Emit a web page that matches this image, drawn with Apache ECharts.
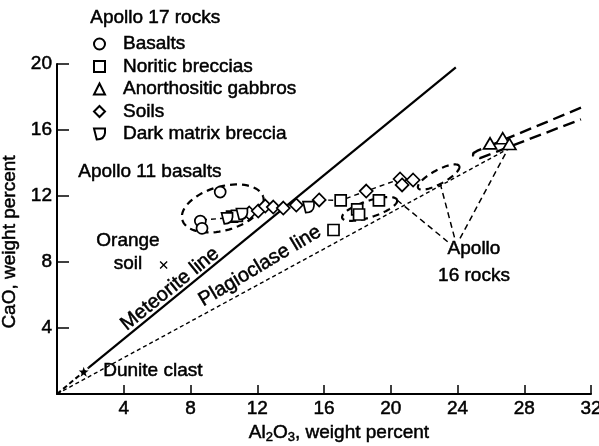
<!DOCTYPE html>
<html>
<head>
<meta charset="utf-8">
<script src="https://cdn.jsdelivr.net/npm/echarts@6/dist/echarts.min.js"></script>
<style>
  html, body { margin: 0; padding: 0; background: #fff; }
  #chart { width: 599px; height: 446px; }
</style>
</head>
<body>
<div id="chart"></div>
<script>
// CaO vs Al2O3 (weight percent) for Apollo 17 rocks and soils
const xTicks = [0, 4, 8, 12, 16, 20, 24, 28, 32];
const yTicks = [0, 4, 8, 12, 16, 20];

const basalts = [[9.78, 12.24], [8.59, 10.48], [8.69, 10.04]];
const noriticBreccias = [
  [10.49, 10.75], [10.78, 10.79], [17.0, 11.73], [17.99, 11.19],
  [18.1, 10.88], [19.29, 11.73], [16.57, 9.94]
];
const anorthositicGabbros = [[25.95, 15.19], [26.71, 15.5], [27.11, 15.15]];
const soils = [
  [11.52, 10.97], [12.06, 11.09], [12.48, 11.39], [12.96, 11.33],
  [13.56, 11.27], [14.34, 11.45], [15.71, 11.76], [18.53, 12.30],
  [20.56, 13.03], [20.68, 12.67], [21.34, 12.97]
];
const darkMatrixBreccia = [[10.19, 10.65], [11.08, 10.91], [15.07, 11.33]];
const orangeSoil = [[6.39, 7.82]];
const duniteClast = [[1.6, 1.35]];

// reference lines
const meteoriteLine = [[1.9, 1.6], [23.9, 19.8]];
const meteoriteLineBase = [[0, 0], [1.9, 1.6]];
const plagioclaseLine = [[0, 0], [27.2, 14.95]];

// Apollo 11 and Apollo 16 fields: [x1, y1, x2, y2, half-width in CaO units]
const closedFields = [
  [7.51, 10.55, 12.36, 11.94, 1.33],
  [17.09, 10.67, 20.38, 11.76, 0.5],
  [21.64, 12.48, 24.1, 13.82, 0.42]
];
const openField = [[31.4, 17.35], [25.17, 14.73], [24.95, 14.6], [24.93, 14.45], [25.35, 14.3], [31.4, 16.65]];
const leaderLines = [
  [[20.37, 11.76], [23.41, 9.23]],
  [[22.96, 12.77], [23.86, 9.33]],
  [[27.15, 15.09], [24.1, 9.33]]
];
const tieLines = [
  [[8.69, 10.55], [10.0, 10.65]],
  [[15.71, 11.76], [17.0, 11.73], [18.53, 12.30], [20.56, 13.03]]
];

const FONT = '"Liberation Sans", Arial, sans-serif';
const darkMatrixPath = 'path://M0,0 L10,0 L10,4 Q9.5,10 2.5,10 L0,0 Z';
const starPath = 'path://M5,0 L6.2,3.6 L10,3.6 L6.9,5.9 L8.1,9.5 L5,7.3 L1.9,9.5 L3.1,5.9 L0,3.6 L3.8,3.6 Z';
const crossPath = 'path://M0,1.2 L1.2,0 L5,3.8 L8.8,0 L10,1.2 L6.2,5 L10,8.8 L8.8,10 L5,6.2 L1.2,10 L0,8.8 L3.8,5 Z';

const hollow = { color: '#fff', borderColor: '#000', borderWidth: 1.7, opacity: 1 };
// slightly heavier strokes on the text
const ink = { textBorderColor: '#000', textBorderWidth: 0.5 };
const label = (text, size, extra) => Object.assign({
  text: text, fill: '#000', font: size + 'px ' + FONT, stroke: '#000', lineWidth: 0.5
}, extra || {});

function renderField(params, api) {
  const a = api.coord([api.value(0), api.value(1)]);
  const b = api.coord([api.value(2), api.value(3)]);
  const hw = api.size([0, api.value(4)])[1];
  const cx = (a[0] + b[0]) / 2, cy = (a[1] + b[1]) / 2;
  const rx = Math.hypot(b[0] - a[0], b[1] - a[1]) / 2;
  const ang = Math.atan2(b[1] - a[1], b[0] - a[0]);
  const pts = [];
  for (let i = 0; i <= 80; i++) {
    const t = (i / 80) * Math.PI * 2;
    const ex = rx * Math.cos(t), ey = hw * Math.sin(t);
    pts.push([cx + ex * Math.cos(ang) - ey * Math.sin(ang), cy + ex * Math.sin(ang) + ey * Math.cos(ang)]);
  }
  return { type: 'polyline', shape: { points: pts }, style: { stroke: '#000', lineWidth: 2.2, lineDash: [7, 5], fill: null } };
}

function lineSeries(data, width, dash) {
  return {
    type: 'line', data: data, symbol: 'none', silent: true, z: 2,
    lineStyle: { color: '#000', width: width, type: dash || 'solid', opacity: 1 }
  };
}

const chart = echarts.init(document.getElementById('chart'));
const option = {
  animation: false,
  backgroundColor: '#fff',
  grid: { left: 57, right: 8, top: 64, bottom: 52, outerBoundsMode: 'none' },
  xAxis: {
    type: 'value', min: xTicks[0], max: xTicks[xTicks.length - 1], interval: 4,
    axisLine: { lineStyle: { color: '#000', width: 2 } },
    axisTick: { inside: true, length: 9, lineStyle: { color: '#000', width: 1.5 } },
    axisLabel: Object.assign({ color: '#000', fontFamily: FONT, fontSize: 19, margin: 5,
      formatter: v => (v === 0 ? '' : String(v)) }, ink),
    splitLine: { show: false },
    name: 'Al{s|2}O{s|3}, weight percent', nameLocation: 'middle', nameGap: 27,
    nameTextStyle: Object.assign({ color: '#000', fontFamily: FONT, fontSize: 19, padding: [0, 0, 0, 30],
      rich: { s: Object.assign({ fontFamily: FONT, fontSize: 13, padding: [10, 0, 0, 0] }, ink) } }, ink)
  },
  yAxis: {
    type: 'value', min: yTicks[0], max: yTicks[yTicks.length - 1], interval: 4,
    axisLine: { lineStyle: { color: '#000', width: 2 } },
    axisTick: { inside: true, length: 12, lineStyle: { color: '#000', width: 1.5 } },
    axisLabel: Object.assign({ color: '#000', fontFamily: FONT, fontSize: 19, margin: 5,
      formatter: v => (v === 0 ? '' : String(v)) }, ink),
    splitLine: { show: false },
    name: 'CaO, weight percent', nameLocation: 'middle', nameGap: 26, nameRotate: 90,
    nameTextStyle: Object.assign({ color: '#000', fontFamily: FONT, fontSize: 19, padding: [0, 26, 0, 0] }, ink)
  },
  legend: {
    data: ['Basalts', 'Noritic breccias', 'Anorthositic gabbros', 'Soils', 'Dark matrix breccia'],
    orient: 'vertical', left: 88, top: 29, itemWidth: 11, itemHeight: 11, itemGap: 2.5,
    textStyle: Object.assign({ color: '#000', fontFamily: FONT, fontSize: 19, lineHeight: 20, padding: [0, 0, 0, 13] }, ink),
    selectedMode: false
  },
  graphic: [
    { type: 'text', left: 90, top: 8, style: label('Apollo 17 rocks', 19) },
    { type: 'text', left: 78, top: 162, style: label('Apollo 11 basalts', 19) },
    { type: 'text', x: 128, y: 252, style: label('Orange\nsoil', 19, { align: 'center', verticalAlign: 'middle', lineHeight: 23 }) },
    { type: 'text', left: 103, top: 361, style: label('Dunite clast', 19) },
    { type: 'text', x: 474, y: 262, style: label('Apollo\n16 rocks', 19, { align: 'center', verticalAlign: 'middle', lineHeight: 27 }) },
    { type: 'text', x: 170, y: 289, rotation: 39 * Math.PI / 180, style: label('Meteorite line', 20, { align: 'center', verticalAlign: 'middle' }) },
    { type: 'text', x: 260, y: 266, rotation: 31 * Math.PI / 180, style: label('Plagioclase line', 20, { align: 'center', verticalAlign: 'middle' }) }
  ],
  series: [
    lineSeries(meteoriteLine, 2.2),
    lineSeries(meteoriteLineBase, 2, [5, 3]),
    lineSeries(plagioclaseLine, 1.4, [4, 3]),
    lineSeries(openField, 2.4, [12, 6]),
    ...leaderLines.map(d => lineSeries(d, 1.5, [6, 4])),
    ...tieLines.map(d => lineSeries(d, 1.4, [5, 4])),
    { type: 'custom', renderItem: renderField, data: closedFields, silent: true, z: 2 },
    { name: 'Basalts', type: 'scatter', data: basalts, symbol: 'circle', symbolSize: 11, itemStyle: hollow, z: 5 },
    { name: 'Noritic breccias', type: 'scatter', data: noriticBreccias, symbol: 'rect', symbolSize: 11, itemStyle: hollow, z: 5 },
    { name: 'Anorthositic gabbros', type: 'scatter', data: anorthositicGabbros, symbol: 'triangle', symbolSize: [13, 11], itemStyle: hollow, z: 5 },
    { name: 'Soils', type: 'scatter', data: soils, symbol: 'diamond', symbolSize: [13, 13], itemStyle: hollow, z: 5 },
    { name: 'Dark matrix breccia', type: 'scatter', data: darkMatrixBreccia, symbol: darkMatrixPath, symbolSize: 11, itemStyle: hollow, z: 5 },
    { name: 'Orange soil', type: 'scatter', data: orangeSoil, symbol: crossPath, symbolSize: 8, itemStyle: { color: '#000', opacity: 1 }, z: 5 },
    { name: 'Dunite clast', type: 'scatter', data: duniteClast, symbol: starPath, symbolSize: 10, itemStyle: { color: '#000', opacity: 1 }, z: 5 }
  ]
};
chart.setOption(option);
</script>
</body>
</html>
